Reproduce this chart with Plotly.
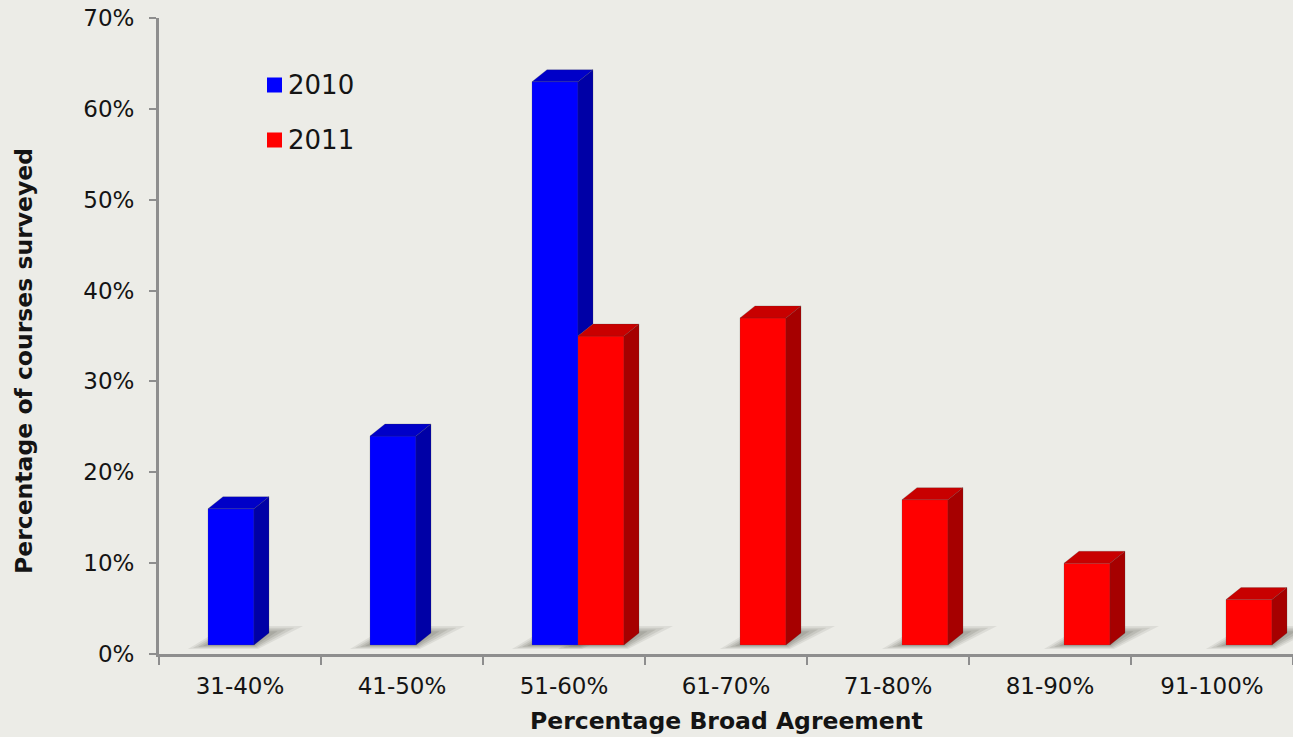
import plotly.graph_objects as go

# ---- data -------------------------------------------------------------
categories = ["31-40%", "41-50%", "51-60%", "61-70%", "71-80%", "81-90%", "91-100%"]
pct_2010 = [15, 23, 62, None, None, None, None]
pct_2011 = [None, None, 34, 36, 16, 9, 5]
y_ticks = [0, 10, 20, 30, 40, 50, 60, 70]
y_tick_labels = [f"{v}%" for v in y_ticks]

# ---- geometry / style -------------------------------------------------
W, H = 1293, 737
M_L, M_R, M_T, M_B = 159, 0, 18, 83
PLOT_W = W - M_L - M_R
PLOT_H = H - M_T - M_B
Y_MAX = 70
PX_X = PLOT_W / len(categories)     # pixels per category
PX_Y = PLOT_H / Y_MAX               # pixels per percentage point

SHIFT = 14 / PX_X                   # group offset caused by the 3D view
BAR_W = 46 / PX_X                   # front-face width
DX = 15 / PX_X                      # depth, horizontal
DY = 12 / PX_Y                      # depth, vertical
FLOOR = 9 / PX_Y                    # bars stand on the floor, behind the axis

BG = "#ECECE7"
AXIS = "#8E8E8E"
TEXT = "#141414"
FONT = "DejaVu Sans"

series = [
    dict(name="2010", values=pct_2010, front="#0000FF", side="#0000A6", top="#0000C8", slot=-1),
    dict(name="2011", values=pct_2011, front="#FF0000", side="#A60000", top="#C80000", slot=0),
]

fig = go.Figure()
shapes = []


def bar_edges(i, slot):
    left = i + SHIFT + slot * BAR_W
    return left, left + BAR_W


# soft floor shadows under every bar
for s in series:
    for i, v in enumerate(s["values"]):
        if v is None:
            continue
        L, R = bar_edges(i, s["slot"])
        for grow, op in [(1.0, 0.12), (0.75, 0.15), (0.5, 0.18), (0.25, 0.20)]:
            bl = L - grow * 20 / PX_X
            br = R + grow * 4 / PX_X
            tl = L + 18 / PX_X
            tr = R + DX + grow * 34 / PX_X
            yb = FLOOR - grow * 4 / PX_Y
            yt = FLOOR + DY + grow * 7 / PX_Y
            shapes.append(dict(
                type="path", xref="x", yref="y", layer="below",
                path=f"M{bl},{yb} L{br},{yb} L{tr},{yt} L{tl},{yt} Z",
                fillcolor="#6A6A60", opacity=op, line=dict(width=0),
            ))

# front faces
for s in series:
    xs = [i + SHIFT + s["slot"] * BAR_W + BAR_W / 2 for i in range(len(categories))]
    fig.add_trace(go.Bar(
        x=xs, y=s["values"], base=FLOOR, width=BAR_W, name=s["name"],
        marker=dict(color=s["front"], line=dict(color="rgba(80,80,80,0.35)", width=0.6)),
        showlegend=False, hoverinfo="skip",
    ))

# side and top faces, drawn left series first so the right one overlaps it
for si, s in enumerate(series):
    for i, v in enumerate(s["values"]):
        if v is None:
            continue
        L, R = bar_edges(i, s["slot"])
        T = FLOOR + v
        side_bottom = FLOOR
        # part of the side hidden by a neighbour standing right next to it
        if si + 1 < len(series):
            nv = series[si + 1]["values"][i]
            if nv is not None:
                side_bottom = FLOOR + nv
        fig.add_trace(go.Scatter(
            x=[R, R + DX, R + DX, R, R],
            y=[side_bottom, side_bottom + DY, T + DY, T, side_bottom],
            fill="toself", fillcolor=s["side"], mode="lines",
            line=dict(color="rgba(60,60,60,0.35)", width=0.6),
            showlegend=False, hoverinfo="skip",
        ))
        fig.add_trace(go.Scatter(
            x=[L, R, R + DX, L + DX, L],
            y=[T, T, T + DY, T + DY, T],
            fill="toself", fillcolor=s["top"], mode="lines",
            line=dict(color="rgba(60,60,60,0.35)", width=0.6),
            showlegend=False, hoverinfo="skip",
        ))


def px_x(px):
    return (px - M_L) / PLOT_W


def px_y(py):
    return (H - M_B - py) / PLOT_H


# legend (squares + labels)
annotations = []
for k, s in enumerate(series):
    cy = 85 + k * 55
    shapes.append(dict(
        type="rect", xref="paper", yref="paper",
        x0=px_x(267), x1=px_x(282), y0=px_y(cy - 7.5), y1=px_y(cy + 7.5),
        fillcolor=s["front"], line=dict(width=0),
    ))
    annotations.append(dict(
        text=s["name"], xref="paper", yref="paper", x=px_x(286), y=px_y(cy),
        xanchor="left", yanchor="middle", showarrow=False,
        font=dict(family=FONT, size=26, color=TEXT),
    ))

# axis titles
annotations.append(dict(
    text="<b>Percentage Broad Agreement</b>", xref="paper", yref="paper",
    x=px_x(726), y=px_y(721), xanchor="center", yanchor="middle", showarrow=False,
    font=dict(family=FONT, size=23.5, color=TEXT),
))
annotations.append(dict(
    text="<b>Percentage of courses surveyed</b>", xref="paper", yref="paper",
    x=px_x(24), y=px_y(361), xanchor="center", yanchor="middle", showarrow=False,
    textangle=-90, font=dict(family=FONT, size=23.5, color=TEXT),
))

fig.update_layout(
    width=W, height=H,
    margin=dict(l=M_L, r=M_R, t=M_T, b=M_B),
    paper_bgcolor=BG, plot_bgcolor=BG,
    barmode="overlay",
    showlegend=False,
    shapes=shapes,
    annotations=annotations,
    xaxis=dict(
        range=[-0.5, len(categories) - 0.5],
        tickvals=list(range(len(categories))), ticktext=categories,
        ticks="", showgrid=False, zeroline=False,
        showline=True, linecolor=AXIS, linewidth=3,
        tickfont=dict(family=FONT, size=23, color=TEXT),
        ticklabelstandoff=9,
        minor=dict(
            tickvals=[k - 0.5 for k in range(len(categories) + 1)],
            ticks="outside", ticklen=8, tickwidth=2, tickcolor=AXIS, showgrid=False,
        ),
    ),
    yaxis=dict(
        range=[0, Y_MAX], tickvals=y_ticks, ticktext=y_tick_labels,
        ticks="outside", ticklen=7, tickwidth=2, tickcolor=AXIS,
        showgrid=False, zeroline=False,
        showline=True, linecolor=AXIS, linewidth=3,
        tickfont=dict(family=FONT, size=23, color=TEXT),
        ticklabelstandoff=10,
    ),
)

fig.write_html("out.html")
